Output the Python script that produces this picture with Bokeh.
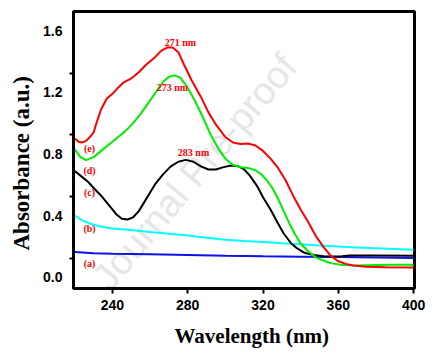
from bokeh.plotting import figure
from bokeh.models import FixedTicker, Range1d, Label, Title
from bokeh.core.properties import value
from bokeh.embed import file_html
from bokeh.resources import INLINE

# ---- data (wavelength nm, absorbance a.u.) ----
e_x = [220, 222, 224, 226, 228, 230, 232, 234, 237, 240, 243, 246, 250, 254, 258, 262, 266, 269, 272, 275, 278, 282, 287, 291, 295, 300, 304, 308, 312, 316, 320, 324, 328, 332, 336, 340, 344, 348, 352, 356, 360, 364, 368, 375, 385, 400]
e_y = [0.90, 0.88, 0.875, 0.885, 0.91, 0.94, 1.02, 1.09, 1.16, 1.19, 1.23, 1.265, 1.29, 1.33, 1.38, 1.42, 1.47, 1.49, 1.49, 1.46, 1.38, 1.28, 1.17, 1.07, 0.99, 0.91, 0.875, 0.865, 0.868, 0.855, 0.82, 0.77, 0.71, 0.63, 0.53, 0.44, 0.36, 0.27, 0.20, 0.14, 0.105, 0.088, 0.078, 0.07, 0.067, 0.065]

d_x = [220, 223, 226, 230, 235, 239, 243, 247, 251, 255, 259, 263, 267, 270, 273, 276, 280, 284, 288, 292, 296, 300, 304, 308, 312, 316, 319, 322, 325, 328, 331, 334, 337, 340, 344, 348, 352, 356, 361, 366, 370, 380, 390, 400]
d_y = [0.83, 0.78, 0.76, 0.78, 0.83, 0.87, 0.91, 0.95, 1.00, 1.06, 1.13, 1.20, 1.27, 1.30, 1.31, 1.295, 1.23, 1.14, 1.04, 0.93, 0.84, 0.77, 0.73, 0.715, 0.71, 0.695, 0.67, 0.63, 0.58, 0.51, 0.43, 0.35, 0.28, 0.22, 0.17, 0.13, 0.11, 0.093, 0.083, 0.079, 0.078, 0.08, 0.082, 0.083]

c_x = [220, 223, 227, 230, 234, 238, 242, 245, 248, 251, 254, 257, 260, 263, 267, 271, 275, 279, 283, 287, 291, 295, 299, 303, 307, 310, 313, 317, 320, 324, 328, 331, 335, 338, 342, 347, 352, 358, 362, 366, 380, 400]
c_y = [0.69, 0.66, 0.62, 0.58, 0.53, 0.47, 0.41, 0.38, 0.375, 0.39, 0.43, 0.49, 0.55, 0.61, 0.67, 0.72, 0.75, 0.762, 0.75, 0.72, 0.70, 0.70, 0.715, 0.725, 0.72, 0.70, 0.66, 0.59, 0.52, 0.44, 0.35, 0.285, 0.22, 0.19, 0.16, 0.145, 0.138, 0.136, 0.137, 0.143, 0.142, 0.14]

b_x = [220, 224, 228, 232, 236, 240, 250, 260, 270, 280, 290, 300, 310, 320, 330, 340, 350, 360, 370, 380, 390, 400]
b_y = [0.40, 0.37, 0.35, 0.335, 0.325, 0.318, 0.307, 0.295, 0.284, 0.272, 0.258, 0.244, 0.236, 0.23, 0.222, 0.215, 0.207, 0.20, 0.195, 0.19, 0.185, 0.18]

a_x = [220, 230, 240, 260, 280, 300, 320, 340, 360, 380, 400]
a_y = [0.165, 0.157, 0.153, 0.15, 0.146, 0.14, 0.137, 0.135, 0.132, 0.129, 0.126]

x_ticks = [240, 280, 320, 360, 400]
y_ticks = [0.0, 0.4, 0.8, 1.2, 1.6]
y_tick_labels = ["0.0", "0.4", "0.8", "1.2", "1.6"]

curve_labels = ["(e)", "(d)", "(c)", "(b)", "(a)"]
curve_label_x = [227.8, 227.8, 227.8, 227.8, 227.8]
curve_label_y = [0.839, 0.696, 0.553, 0.319, 0.091]

peak_labels = ["271 nm", "273 nm", "283 nm"]
peak_label_x = [276.1, 271.9, 283.1]
peak_label_y = [1.522, 1.229, 0.807]

p = figure(width=428, height=357, output_backend="svg", toolbar_location=None,
           x_range=Range1d(219.3, 400.5), y_range=Range1d(-0.0715, 1.7236),
           min_border_left=70, min_border_right=14, min_border_top=11, min_border_bottom=4)
p.grid.visible = False
p.outline_line_color = "black"
p.outline_line_width = 3

wm = Label(x=233.6, y=-0.045, text="Journal Pre-proof", angle=50, angle_units="deg",
           text_font="Liberation Sans", text_font_size="38px", text_color="#e6e6e6",
           text_align="left", text_baseline="alphabetic", level="underlay")
p.add_layout(wm)

p.line(a_x, a_y, line_color="#1010e8", line_width=2)
p.line(b_x, b_y, line_color="#00ffff", line_width=2)
p.line(c_x, c_y, line_color="black", line_width=2)
p.line(d_x, d_y, line_color="#00ee00", line_width=2)
p.line(e_x, e_y, line_color="#ff0000", line_width=2)

p.text(x=curve_label_x, y=curve_label_y, text=curve_labels, text_color="#ff0000",
       text_font=value("Liberation Serif"), text_font_style="bold", text_font_size="10px",
       text_align="center", text_baseline="middle")
p.text(x=peak_label_x, y=peak_label_y, text=peak_labels, text_color="#ff0000",
       text_font=value("Liberation Serif"), text_font_style="bold", text_font_size="10px",
       text_align="center", text_baseline="middle")

xa = p.xaxis[0]
xa.ticker = FixedTicker(ticks=x_ticks)
xa.axis_line_width = 3
xa.major_tick_line_width = 2
xa.major_tick_out = 5
xa.major_tick_in = 0
xa.minor_tick_line_color = None
xa.major_label_standoff = 6
xa.major_label_text_font = "Liberation Sans"
xa.major_label_text_font_style = "bold"
xa.major_label_text_font_size = "14px"
xa.major_label_text_color = "black"

xt = Title(text="Wavelength (nm)", align="left", offset=101, standoff=19,
           text_font="Liberation Serif", text_font_style="bold", text_font_size="21px",
           text_color="black")
p.add_layout(xt, "below")

ya = p.yaxis[0]
ya.ticker = FixedTicker(ticks=y_ticks, minor_ticks=[0.125, 0.525, 0.925, 1.325])
ya.major_label_overrides = {t: s for t, s in zip(y_ticks, y_tick_labels)}
ya.axis_line_width = 3
ya.major_tick_line_color = None
ya.major_tick_out = 4
ya.major_tick_in = 0
ya.minor_tick_line_color = "black"
ya.minor_tick_line_width = 2
ya.minor_tick_out = 4
ya.minor_tick_in = 0
ya.major_label_standoff = 7
ya.major_label_text_font = "Liberation Sans"
ya.major_label_text_font_style = "bold"
ya.major_label_text_font_size = "14px"
ya.major_label_text_color = "black"

yt = Title(text="Absorbance (a.u.)", align="left", offset=38, standoff=13,
           text_font="Liberation Serif", text_font_style="bold", text_font_size="23px",
           text_color="black")
p.add_layout(yt, "left")

open("out.html", "w").write(file_html(p, INLINE))
